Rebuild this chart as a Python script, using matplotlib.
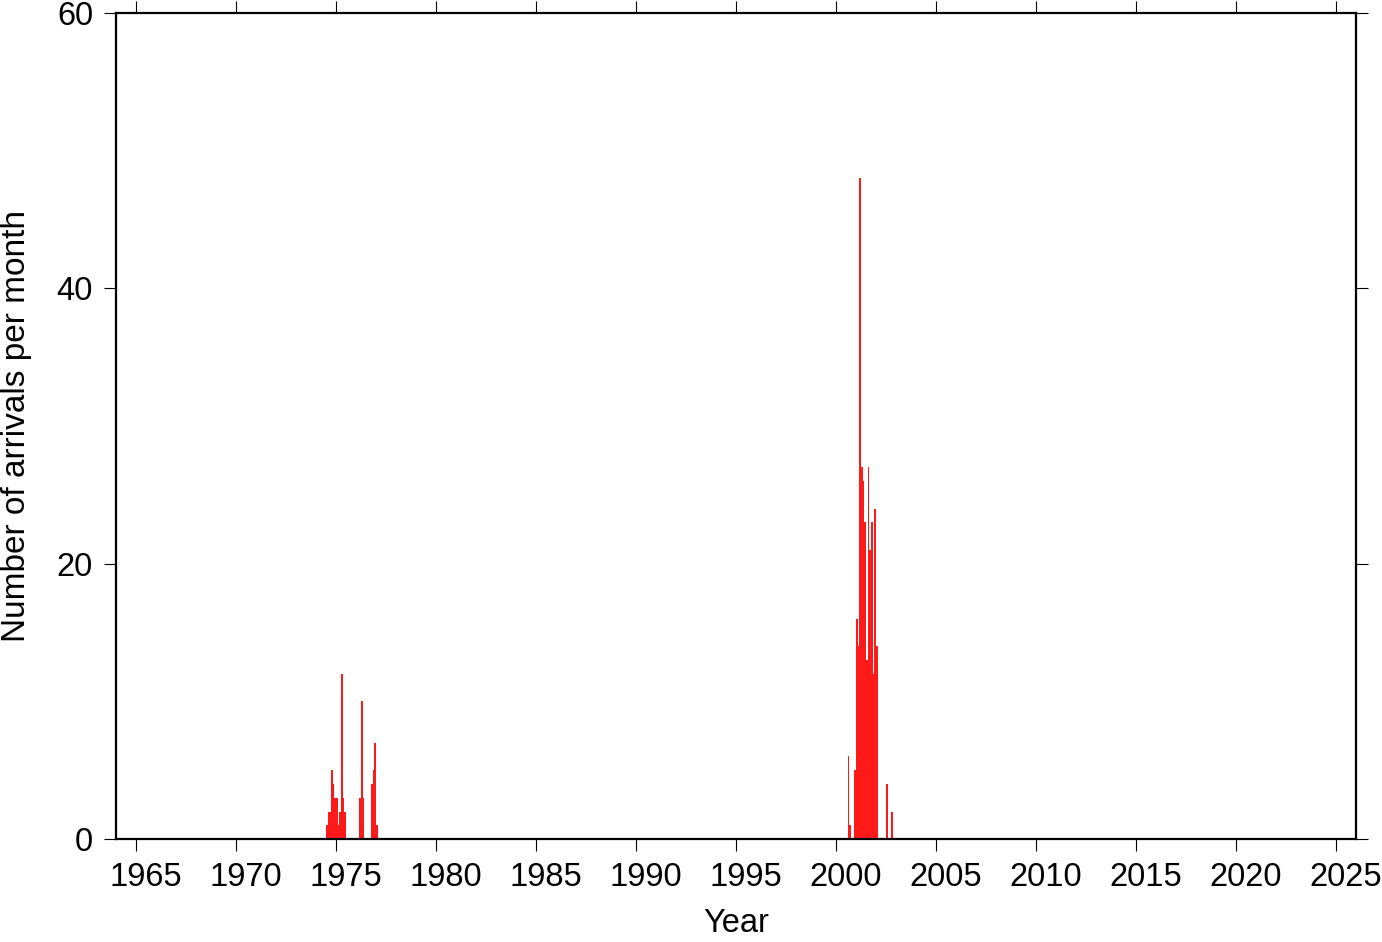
import numpy as np
import matplotlib.pyplot as plt
import matplotlib.transforms as mtransforms

plt.rcParams['font.family'] = ['Liberation Sans', 'DejaVu Sans']

# monthly arrival counts (months with zero arrivals left out)
months = ["1974-07", "1974-08", "1974-09", "1974-10", "1974-11", "1974-12",
          "1975-01", "1975-02", "1975-03", "1975-04", "1975-05", "1975-06",
          "1976-03", "1976-04", "1976-05",
          "1976-10", "1976-11", "1976-12", "1977-01",
          "2000-08", "2000-09", "2000-12",
          "2001-01", "2001-02", "2001-03", "2001-04", "2001-05", "2001-06",
          "2001-07", "2001-08", "2001-09", "2001-10", "2001-11", "2001-12",
          "2002-01", "2002-07", "2002-10"]
counts = [1, 2, 2, 5, 4, 3,
          3, 1, 2, 12, 3, 2,
          3, 10, 3,
          4, 5, 7, 1,
          6, 1, 5,
          16, 14, 48, 27, 26, 23,
          13, 27, 21, 23, 12, 24,
          14, 4, 2]
year_ticks = list(range(1965, 2030, 5))
count_ticks = [0, 20, 40, 60]

# decimal year of the start of each month
t = np.array([int(m[:4]) + (int(m[5:]) - 1) / 12 for m in months])

fig = plt.figure(figsize=(13.82, 9.42), dpi=100)
ax = fig.add_axes([0.0839, 0.1093, 0.8973, 0.8769])
ax.bar(t, counts, width=1/12, align='edge', color='#ff1a1a', linewidth=0)

ax.set_xlim(1964, 2026)
ax.set_ylim(0, 60)
ax.set_xticks(year_ticks)
ax.set_yticks(count_ticks)
ax.tick_params(direction='out', length=8.5, width=0.8, labelsize=23.5,
               top=True, right=True, pad=8)
for s in ax.spines.values():
    s.set_linewidth(1.6)

# year labels sit a little right of their ticks
shift = mtransforms.ScaledTranslation(0.10, 0, fig.dpi_scale_trans)
for lbl in ax.get_xticklabels():
    lbl.set_transform(lbl.get_transform() + shift)

ax.set_xlabel('Year', fontsize=23.5, labelpad=11)
ax.set_ylabel('Number of arrivals per month', fontsize=24, labelpad=18)

plt.savefig('out.png', dpi=100)
